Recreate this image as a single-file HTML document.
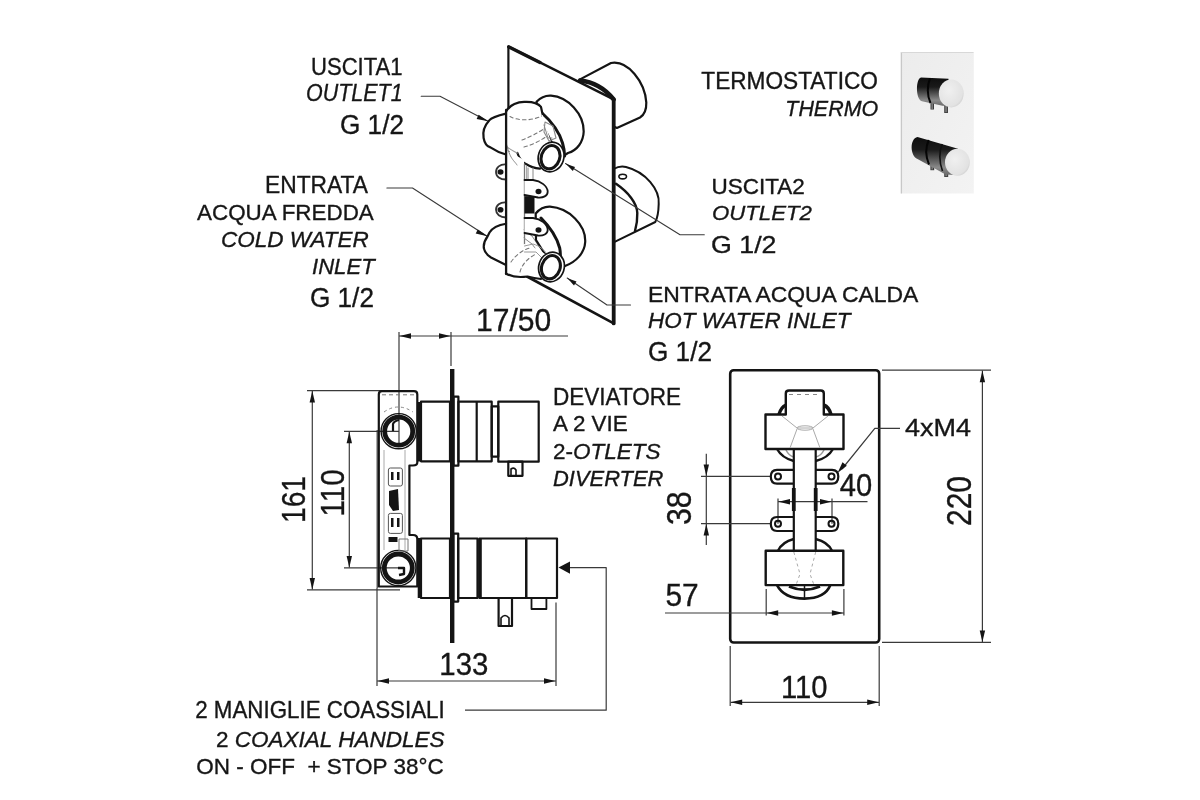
<!DOCTYPE html>
<html><head><meta charset="utf-8"><style>
html,body{margin:0;padding:0;background:#fff;overflow:hidden;}
svg{display:block;will-change:transform;}
text{font-family:"Liberation Sans",sans-serif;fill:#161616;stroke:#161616;stroke-width:0.35;}
</style></head><body>
<svg width="1200" height="800" viewBox="0 0 1200 800">
<rect width="1200" height="800" fill="#fff"/>
<g id="iso" fill="none" stroke="#141414" stroke-linejoin="round" stroke-linecap="round">
  <!-- back knobs -->
  <path fill="#fff" stroke-width="2.2" d="M580,79.4 L611,63 C628,60 645,82 646.3,102.5 C646.5,110 644,115 640,117.5 L616.9,128 L600,120 Z"/>
  <path fill="#fff" stroke-width="2" d="M613.6,169 C618,166.5 622,166 626,167 C646,172 660,190 658.7,204 C658.5,212 657.5,218 655.3,222 L613.6,242.3 L600,220 Z"/>
  <path stroke-width="2.4" d="M616,183.8 C628,192 637,203 637.3,213 C637.5,221 636.5,226 635,231"/>
  <ellipse cx="622.7" cy="176.6" rx="3.8" ry="2.3" stroke-width="1.6"/>
  <!-- plate -->
  <path fill="#fff" stroke="none" d="M508.4,46.6 L613.7,99.4 L613.7,323.4 L508.4,270.6 Z"/>
  <line x1="508.4" y1="46.6" x2="508.4" y2="272" stroke-width="2.2"/>
  <line x1="508.4" y1="46.6" x2="613.7" y2="99.4" stroke-width="2.6"/>
  <line x1="509" y1="47" x2="540" y2="62.5" stroke-width="3.4"/>
  <path d="M580,80.5 C595,82 606,90 613.7,99.4" stroke-width="4.5"/>
  <line x1="613.7" y1="99.4" x2="613.7" y2="323.4" stroke-width="3.8"/>
  <line x1="527" y1="276.5" x2="613.7" y2="323.4" stroke-width="2.6"/>
  <!-- leaders -->
  <g stroke="#3a3a3a" stroke-width="1.1">
    <polyline points="421.2,96.3 440,96.3 488.5,121.5"/>
    <polyline points="386.9,188 412.5,188 487.5,236.5"/>
    <polyline points="565.5,163.5 680,234.8 704.3,234.8"/>
    <polyline points="567.2,278 607,305 630.5,305"/>
  </g>
  <g fill="#141414" stroke="none">
    <path d="M488.3,121.3 L478.6,114.8 L476.6,118.9Z"/>
    <path d="M487.3,236.3 L477.8,229.6 L475.7,233.6Z"/>
    <path d="M565.8,163.7 L575,167 L572.8,171Z"/>
    <path d="M567.5,278.2 L576.5,281.5 L574,285.4Z"/>
  </g>
  <!-- upper left knob -->
  <path fill="#fff" stroke-width="2.2" d="M506,113.6 C498,115.5 492,117 489.2,120.4 C484.5,125.5 482.5,132 483.6,138 C484.5,143 487,146.5 490.4,147.4 C495,150.5 500,153 506,154.5"/>
  <!-- upper front knob -->
  <path fill="#fff" stroke-width="2.2" d="M536.5,101.8 C541,97 546,95.3 551,95.6 C568,96.8 584,114 583.7,131.6 C583.4,142 577,150.5 568,153 L560,158 L540,120 Z"/>
  <path stroke-width="3" d="M541.5,112.5 C551,121 559,131 562.5,143 C564,148 564.6,152 564.6,156"/>
  <!-- upper tee -->
  <path fill="#fff" stroke="none" d="M506.1,111.4 C510,104.5 518,101.5 525.2,101.8 C532.5,101.6 538.5,103.6 541,106.9 L543.2,118 L552,145 L540,168.7 C534,168 529,166.5 526.4,164.2 C521,161 518.5,157 517.4,153 C513,151.5 509,150.8 506.1,150.5 Z"/>
  <path stroke-width="2.2" d="M506.1,111.4 C510,104.5 518,101.5 525.2,101.8 C532.5,101.6 538.5,103.6 541,106.9 L542.5,114"/>
  <path stroke-width="2.2" d="M517.4,153 C519,158 522,162 526.4,164.2 C530,166.5 535,168 540,168.7"/>
  <path stroke="#999" stroke-width="1.1" d="M506.1,146 C510,150 514,151 517.4,153"/>
  <path stroke="#888" stroke-width="1.1" d="M545,122 L553,126 L556,138 L549,141 L544,132 Z"/>
  <g stroke="#777" stroke-width="1.1" stroke-dasharray="3.5,3">
    <path d="M510,116.5 C518,121 532,121 541.5,116"/>
    <path d="M522,140 C530,137 538,133 545,128"/>
    <path d="M524,147 C532,145 540,141 547,136"/>
  </g>
  <path stroke="#888" stroke-width="1" d="M544,125 L548,138 L552,138"/>
  <!-- column -->
  <path fill="#fff" stroke="none" d="M506,150 L524,160 L524,276 L506,276 Z"/>
  <line x1="524.5" y1="164" x2="524.5" y2="250" stroke="#777" stroke-width="1.3"/><line x1="526.5" y1="166" x2="526.5" y2="196" stroke="#aaa" stroke-width="1"/>
  <g stroke="#888" stroke-width="1">
    <path d="M506,142 C510,160 514,160 517,165"/>
    <line x1="533" y1="168" x2="533" y2="186"/>
    <line x1="528" y1="168" x2="528" y2="185"/>
    <path d="M524,230 L532,236 L540,248"/>
    <path d="M524,238 L532,244 L538,252"/>
  </g>
  <!-- ears -->
  <g stroke-width="1.8" fill="#fff">
    <path d="M506,164.5 C500,164 496,167.5 496,172 C496,176.5 500,179.5 506,179.5" stroke="#333"/>
    <path d="M506,202.5 C500,202 496,205.5 496,209.7 C496,214 500,217.5 506,217.5" stroke="#333"/>
    <path d="M524.5,180 L533,180 C541,181 547.5,186 547.7,191.7 C547.7,196 543,198 538,197.5 L524.5,195"/>
  </g>
  <g fill="#141414" stroke="none">
    <ellipse cx="500.5" cy="172" rx="3" ry="2.8"/>
    <ellipse cx="500.5" cy="209.7" rx="3" ry="2.8"/>
    <ellipse cx="538.5" cy="191.5" rx="3" ry="2.8"/>
    <rect x="524.5" y="196.2" width="10" height="17.3"/>
  </g>
  <!-- lower left knob -->
  <path fill="#fff" stroke-width="2.2" d="M506,223.75 C498,225 492,228.5 489.5,232.5 L487.5,236.5 C484.5,240.5 483.5,245 483.8,248 C484.5,252 487,255 491,257.5 L506,265"/>
  <!-- lower front knob -->
  <path fill="#fff" stroke-width="2.2" d="M535.7,213.5 C540,208.5 545,206.5 550,206.7 C569,208 586,225 585.2,242 C584.6,253 576,262 565,266 L555,270 L536,240 Z"/>
  <path stroke-width="3" d="M541,218 C550,227 557,238 559.7,248 C560.5,252 560.5,254 560.3,257"/>
  <!-- lower tee -->
  <path fill="#fff" stroke="none" d="M524.5,244 C532,246 540,250 548,256 L540,279 C535,278.5 530,277.5 527.5,276.5 C520,277.5 511,276.5 506,273.5 L506,250 Z"/>
  <path stroke-width="2.2" d="M506,273.5 C511,276.5 520,277.5 527.5,276.5 C531,277.5 535,278.5 541,279"/>
  <g stroke="#999" stroke-width="1">
    <path d="M524.5,246 L533,244 C540,246 545,250 548,256"/>
    <path d="M524.5,252 L536,252 L546,262"/>
  </g>
  <g stroke="#777" stroke-width="1.1" stroke-dasharray="3.5,3">
    <path d="M511,262 C515,256 522,250 530,248"/>
    <path d="M520,272 C522,264 528,258 536,254"/>
  </g>
  <path fill="#fff" stroke-width="1.8" d="M524.5,218 L533,218 C541,219 547.5,224 547.7,230 C547.7,234 543,236 538,235.5 L524.5,233"/>
  <ellipse cx="538.5" cy="230" rx="3" ry="2.8" fill="#141414" stroke="none"/>
  <line x1="506.1" y1="110" x2="506.1" y2="274" stroke-width="2.3"/>
  <!-- rings -->
  <ellipse cx="551.1" cy="157" rx="12.7" ry="15" transform="rotate(18 551.1 157)" fill="#fff" stroke-width="1.7"/>
  <ellipse cx="550.5" cy="157.2" rx="9.2" ry="11.9" transform="rotate(18 550.5 157.2)" stroke-width="3.1"/>
  <ellipse cx="551.5" cy="267" rx="12.7" ry="15" transform="rotate(18 551.5 267)" fill="#fff" stroke-width="1.7"/>
  <ellipse cx="550.9" cy="267.2" rx="9.2" ry="11.9" transform="rotate(18 550.9 267.2)" stroke-width="3.1"/>
</g>

<g id="photo">
  <defs>
    <linearGradient id="pl" x1="0" y1="0" x2="1" y2="1">
      <stop offset="0" stop-color="#ececec"/><stop offset="1" stop-color="#f3f3f3"/>
    </linearGradient>
    <linearGradient id="cyl" x1="0" y1="0" x2="0" y2="1">
      <stop offset="0" stop-color="#0e0e0e"/><stop offset="0.33" stop-color="#1a1a1a"/><stop offset="0.55" stop-color="#4e4e4e"/><stop offset="0.8" stop-color="#8a8a8a"/><stop offset="1" stop-color="#6a6a6a"/>
    </linearGradient>
    <radialGradient id="disk" cx="0.4" cy="0.4" r="0.7">
      <stop offset="0" stop-color="#f0f0f0"/><stop offset="0.8" stop-color="#e2e2e2"/><stop offset="1" stop-color="#c8c8c8"/>
    </radialGradient>
  </defs>
  <rect x="900.8" y="52" width="73" height="141.5" fill="url(#pl)"/>
  <line x1="901.4" y1="52" x2="901.4" y2="193.5" stroke="#c8c8c8" stroke-width="1.3"/>
  <line x1="901" y1="52.5" x2="973.5" y2="52.5" stroke="#d8d8d8" stroke-width="1"/>
  <!-- upper knob -->
  <g>
    <rect x="930.5" y="100" width="3.5" height="9.5" fill="#3a3a3a"/>
    <rect x="944.2" y="102" width="3.8" height="11" fill="#444"/>
    <rect x="931.5" y="103" width="1.3" height="6" fill="#888"/>
    <rect x="945.4" y="105" width="1.3" height="7" fill="#888"/>
    <path d="M921,77.6 L948.5,78.8 L950,106 L942.5,105.8 L922,101.3 C915.5,100 915.5,78.5 921,77.6Z" fill="url(#cyl)"/>
    <path d="M930,78.5 C927,85 927,96 930.5,103" stroke="#050505" stroke-width="2" fill="none"/>
    
    <ellipse cx="951.25" cy="93.4" rx="12.4" ry="14" fill="url(#disk)"/>
  </g>
  <!-- lower knob -->
  <g>
    <rect x="930.4" y="162" width="3.8" height="8.2" fill="#3a3a3a"/>
    <rect x="944.2" y="167" width="4" height="10" fill="#444"/>
    <rect x="931.5" y="164" width="1.3" height="5.5" fill="#888"/>
    <rect x="945.5" y="170" width="1.3" height="6" fill="#888"/>
    <path d="M917.5,137 L958,148.75 L956,175 L945.6,174.6 L917.5,158.9 C910,156 909.5,138.5 917.5,137Z" fill="url(#cyl)"/>
    <path d="M928.75,140 C925.5,147 925.5,156 929,164.5" stroke="#050505" stroke-width="2" fill="none"/>
    <path d="M942.25,144 C939,151 939,162 942.5,171" stroke="#101010" stroke-width="1.6" fill="none"/>
    
    <ellipse cx="957.4" cy="162.25" rx="12.4" ry="13.5" fill="url(#disk)"/>
  </g>
</g>

<g id="left" fill="none" stroke="#141414" stroke-linejoin="round">
  <!-- dimension / extension lines (thin) -->
  <g stroke="#3a3a3a" stroke-width="1.2">
    <!-- 17/50 -->
    <line x1="399" y1="332" x2="399" y2="445"/>
    <line x1="451" y1="332" x2="451" y2="366"/>
    <line x1="399" y1="336" x2="568" y2="336"/>
    <!-- 161 -->
    <line x1="307" y1="390.6" x2="382" y2="390.6"/>
    <line x1="307" y1="589.8" x2="400" y2="589.8"/>
    <line x1="312.3" y1="391" x2="312.3" y2="589.5"/>
    <!-- 110 -->
    <line x1="344" y1="431.3" x2="399" y2="431.3"/>
    <line x1="344" y1="567.8" x2="400" y2="567.8"/>
    <line x1="349.3" y1="431.5" x2="349.3" y2="567.5"/>
    <!-- 133 -->
    <line x1="377" y1="588" x2="377" y2="686"/>
    <line x1="556" y1="602.5" x2="556" y2="686"/>
    <line x1="377" y1="681" x2="556" y2="681"/>
    <!-- leader to handles -->
    <polyline points="569,567.6 606.2,567.6 606.2,710.2 465,710.2"/>
  </g>
  <g fill="#141414" stroke="none">
    <!-- arrowheads 17/50 -->
    <path d="M399.5,336.0 L411.0,338.7 L411.0,333.3Z"/>
    <path d="M450.5,336.0 L439.0,333.3 L439.0,338.7Z"/>
    <!-- 161 -->
    <path d="M312.3,391.0 L309.6,402.5 L315.0,402.5Z"/>
    <path d="M312.3,589.5 L315.0,578.0 L309.6,578.0Z"/>
    <!-- 110 -->
    <path d="M349.3,431.7 L346.6,443.2 L352.0,443.2Z"/>
    <path d="M349.3,567.5 L352.0,556.0 L346.6,556.0Z"/>
    <!-- 133 -->
    <path d="M377.5,681.0 L389.0,683.7 L389.0,678.3Z"/>
    <path d="M555.5,681.0 L544.0,678.3 L544.0,683.7Z"/>
    <!-- handle arrow -->
    <path d="M558.5,567.6 L570,561.5 L570,573.7Z"/>
    <!-- wall bar -->
    <rect x="450" y="369" width="4.4" height="274"/>
  </g>
  <!-- body -->
  <path stroke-width="2.2" d="M378.8,394.5 Q378.8,391.2 382,391.2 L414,391.2 Q417.3,391.2 417.3,394.5 L417.3,462.5 Q417.3,465.5 413,465.5 L409.4,465.5 L409.4,535 L413,535 Q417.3,535 417.3,539 L417.3,586.5 L378.8,586.5 Z"/>
  <line x1="419.3" y1="402" x2="419.3" y2="461.5" stroke-width="3.2"/>
  <line x1="419.3" y1="538" x2="419.3" y2="598" stroke-width="3.2"/>
  <!-- dashed top -->
  <line x1="382" y1="394.8" x2="414" y2="394.8" stroke="#777" stroke-width="1" stroke-dasharray="4,3"/>
  <path d="M384,412 Q398,402 413,412" stroke="#888" stroke-width="1" stroke-dasharray="3,3"/>
  <line x1="377.2" y1="430" x2="377.2" y2="588" stroke-width="1.2" stroke="#333"/>
  <!-- rings -->
  <circle cx="398.7" cy="431.2" r="17.6" stroke-width="1.4"/>
  <circle cx="398.7" cy="431.2" r="14" stroke-width="4.8"/>
  <path d="M393,431 L393,424 Q394,421 399,420" stroke-width="2.2"/>
  <circle cx="398.3" cy="568" r="17.6" stroke-width="1.4"/>
  <circle cx="398.3" cy="568" r="14" stroke-width="4.8"/>
  <path d="M398,568 L404,568 L404,574 L399,575" stroke-width="2.4"/>
  <!-- inner details -->
  <g stroke="#555" stroke-width="1">
    <rect x="388.4" y="468" width="14" height="18" rx="2"/>
    <rect x="388.4" y="513.4" width="14" height="20" rx="2"/>
    <line x1="384" y1="450" x2="384" y2="550" stroke="#aaa"/>
    <line x1="405" y1="450" x2="405" y2="550" stroke="#aaa"/>
    <rect x="399" y="539" width="9" height="12" stroke="#777"/>
  </g>
  <g fill="#141414" stroke="none">
    <rect x="391" y="472" width="2.5" height="8"/>
    <rect x="397" y="472" width="2.5" height="8"/>
    <rect x="391" y="518" width="2.5" height="9"/>
    <rect x="397" y="518" width="2.5" height="9"/>
    <path d="M389,491 L398,489 L399,510 L393,511 L389,505Z"/>
    <rect x="388.5" y="537" width="9" height="5"/>
  </g>
  <!-- upper valve -->
  <g stroke-width="2.2">
    <rect x="421" y="401.7" width="29" height="59.6"/>
    <rect x="453.6" y="396.7" width="4.8" height="69"/>
    <rect x="458.4" y="401.7" width="33.3" height="59.6"/>
    <line x1="476.7" y1="401.7" x2="476.7" y2="461.3"/>
    <rect x="491.7" y="406.3" width="6.6" height="50.4"/>
    <rect x="498.3" y="401.7" width="40.4" height="60"/>
    <rect x="508.3" y="461.7" width="14.2" height="14.1"/>
    <path d="M511,475 L511,469 Q514,467 516,470 L516,475" stroke-width="1.6"/>
  </g>
  <!-- lower valve -->
  <g stroke-width="2.2">
    <rect x="421" y="538.5" width="29" height="59.5"/>
    <rect x="453.4" y="533.6" width="4.8" height="68"/>
    <rect x="458.2" y="538.5" width="19.3" height="59.5"/>
    <rect x="479.5" y="538.5" width="46.7" height="59.5"/>
    <line x1="480" y1="538.5" x2="480" y2="598" stroke-width="3.6"/>
    <rect x="526.2" y="538.5" width="30.8" height="59.5"/>
    <rect x="498.6" y="598" width="13.4" height="28"/>
    <path d="M501,625 L501,618 Q505,613 509,618 L509,625" stroke-width="1.6"/>
    <rect x="531.5" y="598" width="14.9" height="11" stroke-width="1.8"/>
  </g>
</g>

<g id="front" fill="none" stroke="#141414" stroke-linejoin="round">
  <!-- plate -->
  <rect x="730.2" y="370.2" width="149" height="272.3" rx="3.5" stroke-width="2.6"/>
  <!-- dims -->
  <g stroke="#3a3a3a" stroke-width="1.2">
    <line x1="882" y1="370.2" x2="991" y2="370.2"/>
    <line x1="882" y1="642.3" x2="991" y2="642.3"/>
    <line x1="982.4" y1="370.6" x2="982.4" y2="642"/>
    <line x1="730.2" y1="646" x2="730.2" y2="706"/>
    <line x1="879.2" y1="646" x2="879.2" y2="706"/>
    <line x1="730.5" y1="702.3" x2="879" y2="702.3"/>
    <!-- 38 -->
    <line x1="706.3" y1="453.7" x2="706.3" y2="545"/>
    <line x1="701" y1="476.4" x2="771" y2="476.4"/>
    <line x1="701" y1="523.7" x2="771" y2="523.7"/>
    <!-- 40 -->
    <line x1="778" y1="498.4" x2="778" y2="523.7"/>
    <line x1="832" y1="498.4" x2="832" y2="523.7"/>
    <line x1="778" y1="501.7" x2="867.5" y2="501.7"/>
    <!-- 57 -->
    <line x1="766.2" y1="589" x2="766.2" y2="615.5"/>
    <line x1="843.9" y1="589" x2="843.9" y2="615.5"/>
    <line x1="665" y1="613" x2="844" y2="613"/>
    <!-- 4xM4 leader -->
    <polyline points="842,469 874.8,428.3 900,428.3"/>
  </g>
  <g fill="#141414" stroke="none">
    <path d="M982.4,370.8 L979.7,382.3 L985.1,382.3Z"/>
    <path d="M982.4,642.0 L985.1,630.5 L979.7,630.5Z"/>
    <path d="M730.7,702.3 L742.2,705.0 L742.2,699.6Z"/>
    <path d="M878.7,702.3 L867.2,699.6 L867.2,705.0Z"/>
    <path d="M706.3,476.0 L709.0,464.5 L703.6,464.5Z"/>
    <path d="M706.3,524.1 L703.6,535.6 L709.0,535.6Z"/>
    <path d="M778.5,501.7 L790.0,504.4 L790.0,499.0Z"/>
    <path d="M831.5,501.7 L820.0,499.0 L820.0,504.4Z"/>
    <path d="M766.7,613.0 L778.2,615.7 L778.2,610.3Z"/>
    <path d="M843.4,613.0 L831.9,610.3 L831.9,615.7Z"/>
    <path d="M837.5,473.0 L846.8,465.7 L842.5,462.3Z"/>
  </g>
  <!-- crescents behind upper body -->
  <path d="M779,414.5 Q781,407 786,405" stroke-width="3.5"/>
  <path d="M831,414.5 Q829,407 823.8,405" stroke-width="3.5"/>
  <path d="M777,449 Q782,458 793.8,461" stroke-width="2.4"/>
  <path d="M833,449 Q828,458 815.7,461" stroke-width="2.4"/>
  <path d="M786,450 Q789,456 793.8,457" stroke="#999" stroke-width="1.5"/>
  <path d="M824,450 Q821,456 815.7,457" stroke="#999" stroke-width="1.5"/>
  <!-- upper body -->
  <path stroke-width="2.4" fill="#fff" d="M785.8,414.5 L785.8,393.5 Q785.8,390.5 789,390.5 L820.8,390.5 Q823.8,390.5 823.8,393.5 L823.8,414.5 L843.5,414.5 L843.5,449 L765.5,449 L765.5,414.5 Z"/>
  <line x1="789" y1="394.5" x2="821" y2="394.5" stroke="#888" stroke-width="1" stroke-dasharray="4,4"/>
  <g stroke="#aaa" stroke-width="1">
    <path d="M782,416 L797,428 L813,428 L828,416"/>
    <path d="M797,429 L790,448"/><path d="M813,429 L820,448"/>
    <ellipse cx="805" cy="428" rx="8" ry="2.2"/>
  </g>
  <!-- column -->
  <line x1="793.8" y1="449" x2="793.8" y2="551" stroke-width="2.2"/>
  <line x1="815.7" y1="449" x2="815.7" y2="551" stroke-width="2.2"/>
  <line x1="793.8" y1="488" x2="793.8" y2="511" stroke-width="3.8"/>
  <line x1="815.7" y1="488" x2="815.7" y2="511" stroke-width="3.8"/>
  <!-- tabs -->
  <g stroke-width="2.2">
    <path d="M793.8,469.8 L777,469.8 Q770.8,470 770.8,476.4 Q770.8,483.6 777,483.6 L793.8,483.6"/>
    <path d="M815.7,469.8 L832,469.8 Q838.3,470 838.3,476.4 Q838.3,483.6 832,483.6 L815.7,483.6"/>
    <path d="M793.8,517 L777,517 Q770.8,517.2 770.8,523.7 Q770.8,531 777,531 L793.8,531"/>
    <path d="M815.7,517 L832,517 Q838.3,517.2 838.3,523.7 Q838.3,531 832,531 L815.7,531"/>
    <circle cx="778" cy="476.4" r="3" stroke-width="2"/>
    <circle cx="831.5" cy="476.4" r="3" stroke-width="2"/>
    <circle cx="778" cy="523.7" r="3" stroke-width="2"/>
    <circle cx="831.5" cy="523.7" r="3" stroke-width="2"/>
  </g>
  <!-- crescents above lower body -->
  <path d="M778,550.8 Q782,542 793.8,539" stroke-width="2.4"/>
  <path d="M832,550.8 Q828,542 815.7,539" stroke-width="2.4"/>
  <!-- lower body -->
  <rect x="765.7" y="550.8" width="77.6" height="34.3" stroke-width="2.4"/>
  <g stroke="#aaa" stroke-width="1" stroke-dasharray="3,3">
    <path d="M793.8,552 L800,574 L796,585"/><path d="M815.7,552 L810,574 L814,585"/>
  </g>
  <path d="M777,585.1 Q784,598.6 804.5,598.6 Q825,598.6 830.4,585.1" stroke-width="2.6"/>
  <path d="M789,586.5 Q804.5,593 820,586.5" stroke-width="2.8"/>
  <line x1="804.5" y1="585" x2="804.5" y2="598.6" stroke-width="1.5"/>
</g>


<g id="texts">
<text transform="translate(311.00,74.50) scale(0.932,1)" font-size="23.69" style="">USCITA1</text>
<text transform="translate(306.00,101.30) scale(0.906,1)" font-size="23.69" style="font-style:italic;">OUTLET1</text>
<text transform="translate(340.00,134.00) scale(0.963,1)" font-size="27.18" style="">G 1/2</text>
<text transform="translate(265.00,193.00) scale(0.980,1)" font-size="23.26" style="">ENTRATA</text>
<text transform="translate(197.00,220.00) scale(0.989,1)" font-size="22.67" style="">ACQUA FREDDA</text>
<text transform="translate(221.00,247.00) scale(1.032,1)" font-size="21.80" style="font-style:italic;">COLD WATER</text>
<text transform="translate(312.00,273.60) scale(0.976,1)" font-size="22.67" style="font-style:italic;">INLET</text>
<text transform="translate(310.00,307.00) scale(0.947,1)" font-size="27.62" style="">G 1/2</text>
<text transform="translate(701.30,89.20) scale(0.981,1)" font-size="23.11" style="">TERMOSTATICO</text>
<text transform="translate(785.30,115.80) scale(0.984,1)" font-size="21.80" style="font-style:italic;">THERMO</text>
<text transform="translate(711.40,193.60) scale(1.019,1)" font-size="22.09" style="">USCITA2</text>
<text transform="translate(712.00,220.40) scale(1.061,1)" font-size="20.93" style="font-style:italic;">OUTLET2</text>
<text transform="translate(711.00,253.00) scale(1.084,1)" font-size="24.71" style="">G 1/2</text>
<text transform="translate(648.00,301.70) scale(1.038,1)" font-size="22.09" style="">ENTRATA ACQUA CALDA</text>
<text transform="translate(648.00,328.00) scale(1.031,1)" font-size="21.80" style="font-style:italic;">HOT WATER INLET</text>
<text transform="translate(648.00,360.80) scale(0.978,1)" font-size="26.74" style="">G 1/2</text>
<text transform="translate(476.00,330.70) scale(0.941,1)" font-size="31.98" style="">17/50</text>
<text transform="translate(553.00,404.60) scale(0.946,1)" font-size="23.84" style="">DEVIATORE</text>
<text transform="translate(553.00,431.40) scale(1.001,1)" font-size="22.38" style="">A 2 VIE</text>
<text transform="translate(553.00,485.80) scale(0.999,1)" font-size="21.95" style="font-style:italic;">DIVERTER</text>
<text transform="translate(439.30,675.20) scale(0.910,1)" font-size="32.27" style="">133</text>
<text transform="translate(195.20,718.00) scale(0.961,1)" font-size="23.26" style="">2 MANIGLIE COASSIALI</text>
<text transform="translate(196.30,773.50) scale(0.979,1)" font-size="22.97" style="">ON - OFF&#160; + STOP 38°C</text>
<text transform="translate(905.00,436.00) scale(1.092,1)" font-size="24.71" style="">4xM4</text>
<text transform="translate(839.80,495.60) scale(0.955,1)" font-size="30.52" style="">40</text>
<text transform="translate(665.50,606.25) scale(0.968,1)" font-size="30.89" style="">57</text>
<text transform="translate(780.90,697.90) scale(0.906,1)" font-size="32.27" style="">110</text>
<text transform="translate(305.40,523.00) rotate(-90) scale(0.828,1)" font-size="34.01">161</text>
<text transform="translate(343.80,516.60) rotate(-90) scale(0.895,1)" font-size="33.14">110</text>
<text transform="translate(691.25,525.00) rotate(-90) scale(0.879,1)" font-size="34.52">38</text>
<text transform="translate(971.00,526.00) rotate(-90) scale(0.859,1)" font-size="34.88">220</text>

<text transform="translate(553,458.5)" font-size="22.5">2-<tspan style="font-style:italic">OTLETS</tspan></text>
<text transform="translate(216,747)" font-size="22.5">2 <tspan style="font-style:italic">COAXIAL HANDLES</tspan></text>
</g>
</svg>
</body></html>
